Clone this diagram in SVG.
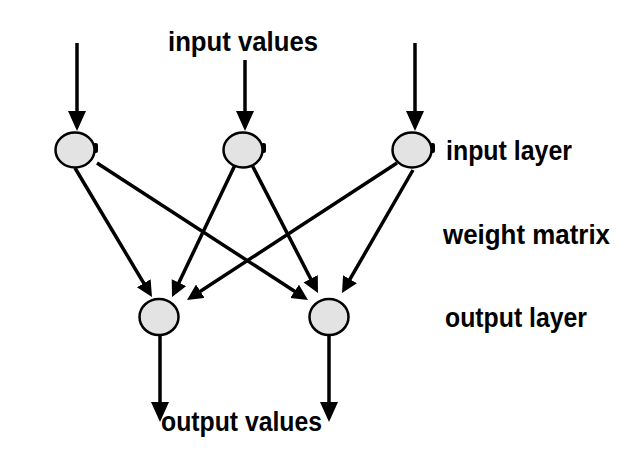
<svg xmlns="http://www.w3.org/2000/svg" width="640" height="457" viewBox="0 0 640 457">
<style>
.node{fill:#e3e3e3;stroke:#000;stroke-width:2.5}
.nub{fill:#000}
.edge{stroke:#000;stroke-width:3.5;fill:none}
.lbl{font-family:"Liberation Sans",Arial,sans-serif;font-weight:bold;font-size:28px;fill:#000}
</style>
<defs>
<marker id="big" markerUnits="userSpaceOnUse" markerWidth="20" markerHeight="20" refX="14" refY="9" orient="auto">
<path d="M0,0 L20,9 L0,18 z" fill="#000"/>
</marker>
<marker id="small" markerUnits="userSpaceOnUse" markerWidth="17" markerHeight="17" refX="11" refY="8" orient="auto">
<path d="M0,0 L16,8 L0,16 z" fill="#000"/>
</marker>
</defs>
<rect width="640" height="457" fill="#fff"/>
<g id="connectors">
<line class="edge" x1="77" y1="43" x2="77" y2="125" marker-end="url(#big)"/>
<line class="edge" x1="245" y1="60" x2="245" y2="125" marker-end="url(#big)"/>
<line class="edge" x1="415" y1="43" x2="415" y2="125" marker-end="url(#big)"/>
<line class="edge" x1="75" y1="168" x2="149.4" y2="292.7" marker-end="url(#small)"/>
<line class="edge" x1="97" y1="163" x2="303.8" y2="297.3" marker-end="url(#small)"/>
<line class="edge" x1="235" y1="165" x2="174.2" y2="292.5" marker-end="url(#small)"/>
<line class="edge" x1="252" y1="165" x2="315.7" y2="288.5" marker-end="url(#small)"/>
<line class="edge" x1="397" y1="163" x2="191.2" y2="297.3" marker-end="url(#small)"/>
<line class="edge" x1="413" y1="170" x2="344.5" y2="288.7" marker-end="url(#small)"/>
<line class="edge" x1="160" y1="336" x2="160" y2="416" marker-end="url(#big)"/>
<line class="edge" x1="329" y1="336" x2="329" y2="416" marker-end="url(#big)"/>
</g>
<g id="in1"><rect class="nub" x="93" y="143" width="5" height="10" rx="2"/><ellipse class="node" cx="75" cy="150" rx="19.5" ry="17.5"/></g>
<g id="in2"><rect class="nub" x="261" y="143" width="5" height="10" rx="2"/><ellipse class="node" cx="243" cy="150" rx="19.5" ry="17.5"/></g>
<g id="in3"><rect class="nub" x="430" y="143" width="5" height="10" rx="2"/><ellipse class="node" cx="412" cy="150" rx="19.5" ry="17.5"/></g>
<g id="out1"><ellipse class="node" cx="159" cy="317" rx="19.5" ry="18"/></g>
<g id="out2"><ellipse class="node" cx="329" cy="317" rx="19.5" ry="18"/></g>
<g id="labels">
<text class="lbl" x="168" y="51" textLength="150" lengthAdjust="spacingAndGlyphs">input values</text>
<text class="lbl" x="446" y="160" textLength="126" lengthAdjust="spacingAndGlyphs">input layer</text>
<text class="lbl" x="443" y="244" textLength="167" lengthAdjust="spacingAndGlyphs">weight matrix</text>
<text class="lbl" x="445" y="327" textLength="142" lengthAdjust="spacingAndGlyphs">output layer</text>
<text class="lbl" x="161" y="431" textLength="161" lengthAdjust="spacingAndGlyphs">output values</text>
</g>
</svg>
